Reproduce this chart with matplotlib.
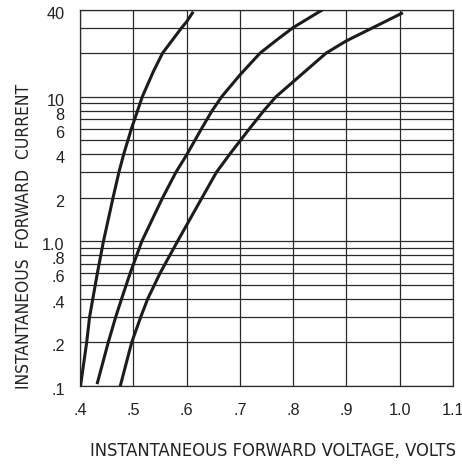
import matplotlib
matplotlib.use("Agg")
import matplotlib.pyplot as plt
import matplotlib.transforms as mtransforms
from matplotlib import font_manager
from matplotlib.font_manager import FontProperties

# ---- data ----
current_1 = [0.1, 0.2, 0.3, 0.4, 0.6, 1.0, 2, 3, 4, 6, 10, 15, 20, 30, 32.9, 38.6]
voltage_1 = [0.401, 0.4125, 0.418, 0.424, 0.4325, 0.444, 0.462, 0.473, 0.482,
             0.4965, 0.517, 0.538, 0.555, 0.591, 0.600, 0.6125]

current_2 = [0.103, 0.2, 0.3, 0.4, 0.6, 1.0, 2, 3, 3.95, 6, 8, 10, 14.1, 20, 24.6, 30, 40]
voltage_2 = [0.432, 0.453, 0.467, 0.478, 0.494, 0.516, 0.555, 0.580, 0.600, 0.628,
             0.648, 0.666, 0.700, 0.738, 0.769, 0.800, 0.856]

current_3 = [0.095, 0.2, 0.3, 0.4, 0.6, 1.0, 2, 3, 4, 6, 8, 10, 20, 24.3, 30, 38]
voltage_3 = [0.474, 0.497, 0.514, 0.527, 0.550, 0.583, 0.629, 0.656, 0.681,
             0.718, 0.745, 0.768, 0.862, 0.900, 0.950, 1.006]

x_ticks = [0.4, 0.5, 0.6, 0.7, 0.8, 0.9, 1.0, 1.1]
x_tick_labels = [".4", ".5", ".6", ".7", ".8", ".9", "1.0", "1.1"]
y_ticks = [0.1, 0.2, 0.4, 0.6, 0.8, 1.0, 2, 4, 6, 8, 10, 40]
y_tick_labels = [".1", ".2", ".4", ".6", ".8", "1.0", "2", "4", "6", "8", "10", "40"]
y_grid = [0.1, 0.2, 0.3, 0.4, 0.5, 0.6, 0.7, 0.8, 0.9,
          1, 2, 3, 4, 5, 6, 7, 8, 9, 10, 20, 30, 40]

x_label = "INSTANTANEOUS FORWARD VOLTAGE, VOLTS"
y_label = "INSTANTANEOUS  FORWARD  CURRENT"

# ---- fonts ----
plt.rcParams["font.family"] = ["Liberation Sans", "DejaVu Sans"]
bad = ("bold", "oblique", "italic", "light", "thin", "medium", "semi", "black",
       "extra", "heavy", "mono", "serif", "demi", "book", "ultra")
narrow_file = None
all_fonts = sorted(font_manager.findSystemFonts())
for path in all_fonts:
    low = path.lower()
    if "liberationsansnarrow-regular" in low:
        narrow_file = path
        break
if narrow_file is None:
    for path in all_fonts:
        low = path.lower().rsplit("/", 1)[-1]
        if ("condensed" in low or "narrow" in low) and not any(b in low for b in bad):
            narrow_file = path
            break

fig = plt.figure(figsize=(4.62, 4.66), dpi=100)
ax = fig.add_axes([80 / 462, 1 - 386 / 466, (453 - 80) / 462, (386 - 9.5) / 466])

ax.set_yscale("log")
ax.set_xlim(0.4, 1.1)
ax.set_ylim(0.1, 40)

grid_color = "#2a2a2a"
for y in y_grid:
    ax.axhline(y, color=grid_color, lw=0.9, zorder=1)
for x in x_ticks:
    ax.axvline(x, color=grid_color, lw=0.9, zorder=1)

curve_kw = dict(color="#1c1c1c", lw=2.2, solid_capstyle="butt",
                solid_joinstyle="round", zorder=3)
ax.plot(voltage_1, current_1, **curve_kw)
ax.plot(voltage_2, current_2, **curve_kw)
ax.plot(voltage_3, current_3, **curve_kw)

for s in ax.spines.values():
    s.set_color(grid_color)
    s.set_linewidth(0.9)

ax.set_xticks(x_ticks)
ax.set_xticklabels(x_tick_labels)
ax.set_yticks(y_ticks)
ax.set_yticklabels(y_tick_labels)
ax.yaxis.set_minor_locator(matplotlib.ticker.NullLocator())
ax.tick_params(axis="both", length=0, labelsize=11.7, colors="#222222")
ax.tick_params(axis="x", pad=12)
ax.tick_params(axis="y", pad=11)

off = mtransforms.ScaledTranslation(0, -3 / 100, fig.dpi_scale_trans)
for lab in ax.get_yticklabels():
    lab.set_transform(lab.get_transform() + off)


def label_font(size):
    if narrow_file:
        return FontProperties(fname=narrow_file, size=size)
    return FontProperties(family=["Liberation Sans", "DejaVu Sans"], size=size)


tx = fig.text(272.5 / 462, 1 - 450.5 / 466, x_label, ha="center", va="center",
              fontproperties=label_font(14), color="#222222")
ty = fig.text(24 / 462, 1 - 236 / 466, y_label, ha="center", va="center", rotation=90,
              fontproperties=label_font(14), color="#222222")

# fit label sizes to the widths seen in the reference
fig.canvas.draw()
r = fig.canvas.get_renderer()
wx = tx.get_window_extent(r).width
hy = ty.get_window_extent(r).height
tx.set_fontproperties(label_font(min(15, 14 * 369 / wx)))
ty.set_fontproperties(label_font(min(15, 14 * 307 / hy)))

fig.savefig("out.png", dpi=100)
